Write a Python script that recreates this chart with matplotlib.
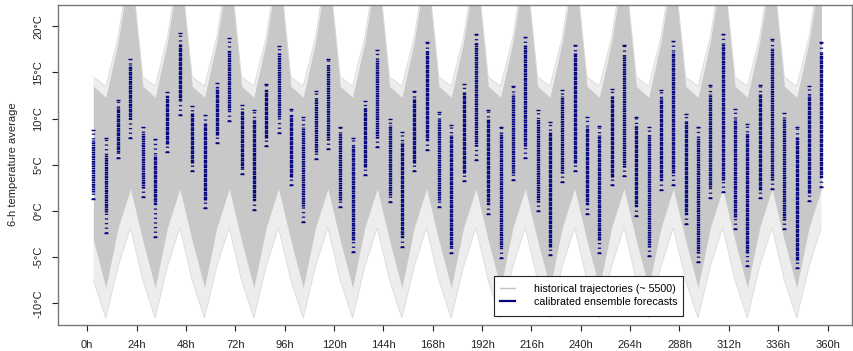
import numpy as np
import matplotlib
matplotlib.use('Agg')
import matplotlib.pyplot as plt
from matplotlib.lines import Line2D
from matplotlib.patches import Rectangle

plt.rcParams['font.family'] = ['Liberation Sans', 'DejaVu Sans']
plt.rcParams['font.size'] = 8

# forecast steps: centre of each 6-h window (3h, 9h, ..., 357h)
steps = list(range(3, 360, 6))

# envelope of the historical trajectories at every step (°C)
hist_max = [
    14.5, 13.5, 18.8, 27.5, 14.5, 13.5, 18.8, 27.5, 14.5, 13.5, 18.8, 27.5,
    14.5, 13.5, 18.8, 27.5, 14.5, 13.5, 18.8, 27.5, 14.5, 13.5, 18.8, 27.5,
    14.5, 13.5, 18.8, 27.5, 14.5, 13.5, 18.8, 27.5, 14.5, 13.5, 18.8, 27.5,
    14.5, 13.5, 18.8, 27.5, 14.5, 13.5, 18.8, 27.5, 14.5, 13.5, 18.8, 27.5,
    14.5, 13.5, 18.8, 27.5, 14.5, 13.5, 18.8, 27.5, 14.5, 13.5, 18.8, 27.5]
hist_hi = [
    13.5, 12.3, 18.3, 26.8, 13.5, 12.3, 18.3, 26.8, 13.5, 12.3, 18.3, 26.8,
    13.5, 12.3, 18.3, 26.8, 13.5, 12.3, 18.3, 26.8, 13.5, 12.3, 18.3, 26.8,
    13.5, 12.3, 18.3, 26.8, 13.5, 12.3, 18.3, 26.8, 13.5, 12.3, 18.3, 26.8,
    13.5, 12.3, 18.3, 26.8, 13.5, 12.3, 18.3, 26.8, 13.5, 12.3, 18.3, 26.8,
    13.5, 12.3, 18.3, 26.8, 13.5, 12.3, 18.3, 26.8, 13.5, 12.3, 18.3, 26.8]
hist_lo = [
    -3.2, -8.3, -1.8, 2.4, -3.2, -8.3, -1.8, 2.4, -3.2, -8.3, -1.8, 2.4,
    -3.2, -8.3, -1.8, 2.4, -3.2, -8.3, -1.8, 2.4, -3.2, -8.3, -1.8, 2.4,
    -3.2, -8.3, -1.8, 2.4, -3.2, -8.3, -1.8, 2.4, -3.2, -8.3, -1.8, 2.4,
    -3.2, -8.3, -1.8, 2.4, -3.2, -8.3, -1.8, 2.4, -3.2, -8.3, -1.8, 2.4,
    -3.2, -8.3, -1.8, 2.4, -3.2, -8.3, -1.8, 2.4, -3.2, -8.3, -1.8, 2.4]
hist_min = [
    -7.5, -11.6, -6.0, -1.8, -7.5, -11.6, -6.0, -1.8, -7.5, -11.6, -6.0, -1.8,
    -7.5, -11.6, -6.0, -1.8, -7.5, -11.6, -6.0, -1.8, -7.5, -11.6, -6.0, -1.8,
    -7.5, -11.6, -6.0, -1.8, -7.5, -11.6, -6.0, -1.8, -7.5, -11.6, -6.0, -1.8,
    -7.5, -11.6, -6.0, -1.8, -7.5, -11.6, -6.0, -1.8, -7.5, -11.6, -6.0, -1.8,
    -7.5, -11.6, -6.0, -1.8, -7.5, -11.6, -6.0, -1.8, -7.5, -11.6, -6.0, -1.8]

# calibrated ensemble: extremes and dense core of the members per step (°C)
ens_max = [8.8, 7.9, 12.0, 16.4, 9.1, 7.8, 12.9, 19.3, 11.4, 10.4, 13.8, 18.7,
           11.5, 10.9, 13.7, 17.9, 11.0, 10.2, 13.0, 16.5, 9.1, 7.9, 11.9, 17.4,
           10.0, 8.5, 13.0, 18.3, 10.7, 9.3, 13.7, 19.2, 10.9, 9.1, 13.5, 18.8,
           10.9, 9.6, 13.1, 18.0, 10.2, 9.2, 13.2, 18.0, 10.2, 9.1, 13.1, 18.4,
           10.5, 9.1, 13.6, 19.2, 11.0, 9.4, 13.6, 18.6, 10.6, 9.1, 13.5, 18.3]
ens_hi = [7.7, 6.1, 11.3, 15.8, 8.4, 6.1, 12.4, 18.1, 10.6, 9.5, 13.3, 17.4,
          10.8, 9.9, 13.1, 17.1, 10.4, 9.1, 12.2, 15.8, 8.4, 7.0, 11.3, 16.5,
          9.3, 7.5, 12.2, 17.4, 9.9, 8.2, 12.9, 18.3, 10.0, 8.4, 12.7, 18.0,
          10.0, 8.6, 12.4, 17.1, 9.1, 8.2, 12.4, 16.9, 9.3, 8.2, 12.2, 17.2,
          9.7, 8.0, 12.7, 18.1, 10.0, 8.4, 12.7, 17.6, 9.9, 8.0, 12.6, 17.1]
ens_lo = [2.1, -0.1, 6.4, 10.0, 2.5, 0.8, 7.3, 12.0, 5.2, 1.2, 8.2, 10.9,
          4.6, 1.2, 7.9, 10.2, 3.7, 0.5, 6.4, 7.7, 1.2, -3.1, 4.8, 7.9,
          1.7, -2.8, 5.2, 7.7, 1.2, -3.9, 4.1, 7.0, 0.8, -3.9, 4.1, 7.0,
          1.0, -3.9, 4.1, 5.2, 0.8, -3.1, 3.7, 4.8, 0.5, -3.9, 3.4, 4.1,
          -0.3, -4.6, 2.6, 3.4, -0.6, -4.6, 2.3, 3.4, -1.0, -5.3, 1.9, 3.7]
ens_min = [1.3, -2.4, 5.7, 7.9, 1.5, -2.8, 6.4, 10.4, 4.3, 0.3, 7.4, 9.7,
           4.0, 0.1, 7.0, 8.4, 2.8, -1.2, 5.6, 6.7, 0.4, -4.4, 3.9, 6.9,
           1.0, -3.9, 4.3, 6.6, 0.4, -4.5, 3.2, 5.5, -0.3, -5.1, 3.3, 5.7,
           0.0, -4.8, 3.1, 4.3, -0.3, -4.6, 2.8, 3.8, -0.5, -4.9, 2.3, 2.8,
           -1.4, -5.5, 1.4, 2.0, -1.9, -6.0, 1.4, 2.4, -2.0, -6.2, 1.1, 2.6]

hour_ticks = list(range(0, 361, 24))
temp_ticks = [-10, -5, 0, 5, 10, 15, 20]

gray_core = '#C8C8C8'
gray_fringe = '#EDEDED'
navy = '#00007F'

fig = plt.figure(figsize=(8.54, 3.51), dpi=100)
ax = fig.add_axes([58 / 854, 1 - 325 / 351, 794 / 854, 320 / 351])

# historical trajectories as a band: light fringe, solid core
ax.fill_between(steps, hist_min, hist_max, color=gray_fringe, lw=0, zorder=1)
ax.plot(steps, hist_min, color='#DADADA', lw=0.6, zorder=1.5)
ax.plot(steps, hist_max, color='#DADADA', lw=0.6, zorder=1.5)
ax.fill_between(steps, hist_lo, hist_hi, color=gray_core, lw=0, zorder=2)

# ensemble members: sparse dashes in the tails, dense in the core
lw_pt = 3.3 * 72 / 100
ax.vlines(steps, ens_min, ens_max, colors=navy, linewidth=lw_pt,
          linestyles=[(0, (0.4, 1.0))], alpha=0.9, zorder=3)
ax.vlines(steps, ens_lo, ens_hi, colors=navy, linewidth=lw_pt,
          linestyles=[(0, (0.5, 0.2))], zorder=4)
ax.plot(steps, ens_max, ls='none', marker='_', ms=3.3, mew=1.0, color=navy, zorder=4)
ax.plot(steps, ens_min, ls='none', marker='_', ms=3.3, mew=1.0, color=navy, zorder=4)

ax.set_xlim(-14.25, 371.9)
ax.set_ylim(-12.34, 22.29)

ax.set_xticks(hour_ticks)
ax.set_xticklabels([f'{h}h' for h in hour_ticks])
ax.set_yticks(temp_ticks)
ax.set_yticklabels([f'{t}°C' for t in temp_ticks], rotation=90, va='center')
ax.tick_params(axis='x', length=4.5, width=0.8, pad=6, colors='#222222')
ax.tick_params(axis='y', length=4.5, width=0.8, pad=6, colors='#222222')
for s in ax.spines.values():
    s.set_color('#777777')
    s.set_linewidth(1.0)

fig.text(13 / 854, 1 - 164 / 351, '6-h temperature average', rotation=90,
         ha='center', va='center', color='#222222')

# legend: frame drawn as its own box, entries placed inside
ax.add_patch(Rectangle((0.5491, 0.0281), 0.2380, 0.125, transform=ax.transAxes,
                       facecolor='white', edgecolor='#222222', lw=0.8, zorder=5))
handles = [Line2D([], [], color='#C4C4C4', lw=1.0),
           Line2D([], [], color=navy, lw=1.6)]
leg = ax.legend(handles, ['historical trajectories (~ 5500)', 'calibrated ensemble forecasts'],
                loc='center left', bbox_to_anchor=(0.5567, 0.0922), borderaxespad=0,
                borderpad=0, frameon=False, handlelength=1.4, handletextpad=1.8,
                labelspacing=0.25, fontsize=7.7)
leg.set_zorder(6)

fig.savefig('out.png', dpi=100)
